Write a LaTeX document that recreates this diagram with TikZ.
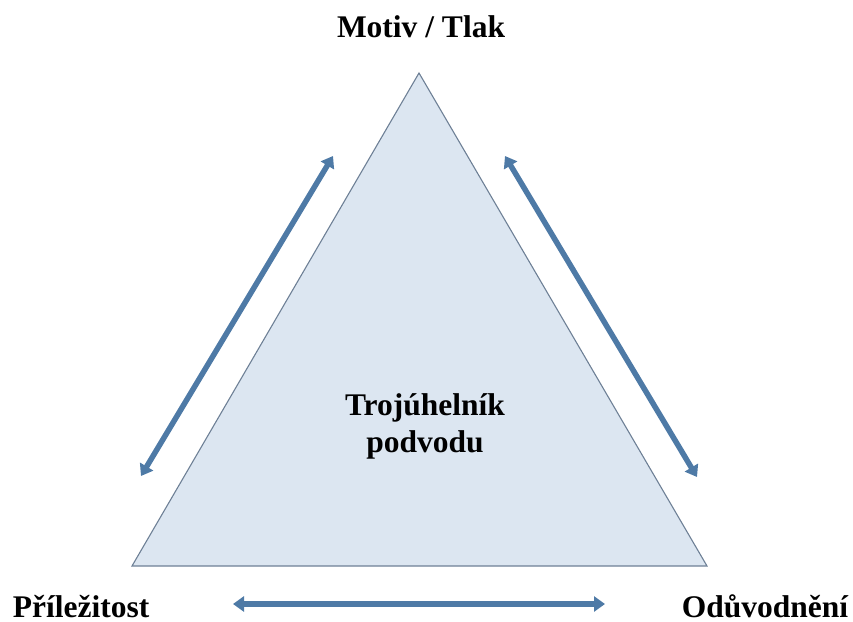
\documentclass[tikz,border=0pt]{standalone}
\usepackage{fontspec}
\setmainfont{Liberation Serif}
\usetikzlibrary{arrows.meta,positioning}
\definecolor{trifill}{HTML}{DCE6F1}
\definecolor{triedge}{HTML}{6E8096}
\definecolor{arrowblue}{HTML}{4E7AA6}
\tikzset{
    label text/.style={font=\bfseries\fontsize{31.5}{37}\selectfont, anchor=base, inner sep=0pt},
    link/.style={arrowblue, line width=5.5pt,
        {Triangle[length=11pt,width=15pt]}-{Triangle[length=11pt,width=15pt]}}
}
\begin{document}
\begin{tikzpicture}[x=1pt,y=-1pt]
            \useasboundingbox (0,0) rectangle (853,621);
            \coordinate (top) at (419,73);
            \coordinate (left) at (132,566);
            \coordinate (right) at (707,566);
            \draw[triedge, fill=trifill, line width=1.1pt] (top) -- (left) -- (right) -- cycle;

            \node[label text] (motiv) at (421,37) {Motiv / Tlak};
            \node[label text] (prilezitost) at (81,617) {Příležitost};
            \node[label text] (oduvodneni) at (765,617) {Odůvodnění};
            \node[label text, align=center] (podvod) at (425,452) {Trojúhelník\\podvodu};

            \coordinate (l1) at (141,476);
            \coordinate (l2) at (333,156);
            \coordinate (r1) at (505,156);
            \coordinate (r2) at (697,477);
            \coordinate (b1) at (233,604);
            \coordinate (b2) at (605,604);
            \draw[link] (l1) -- (l2);
            \draw[link] (r1) -- (r2);
            \draw[link] (b1) -- (b2);
        \end{tikzpicture}
\end{document}
